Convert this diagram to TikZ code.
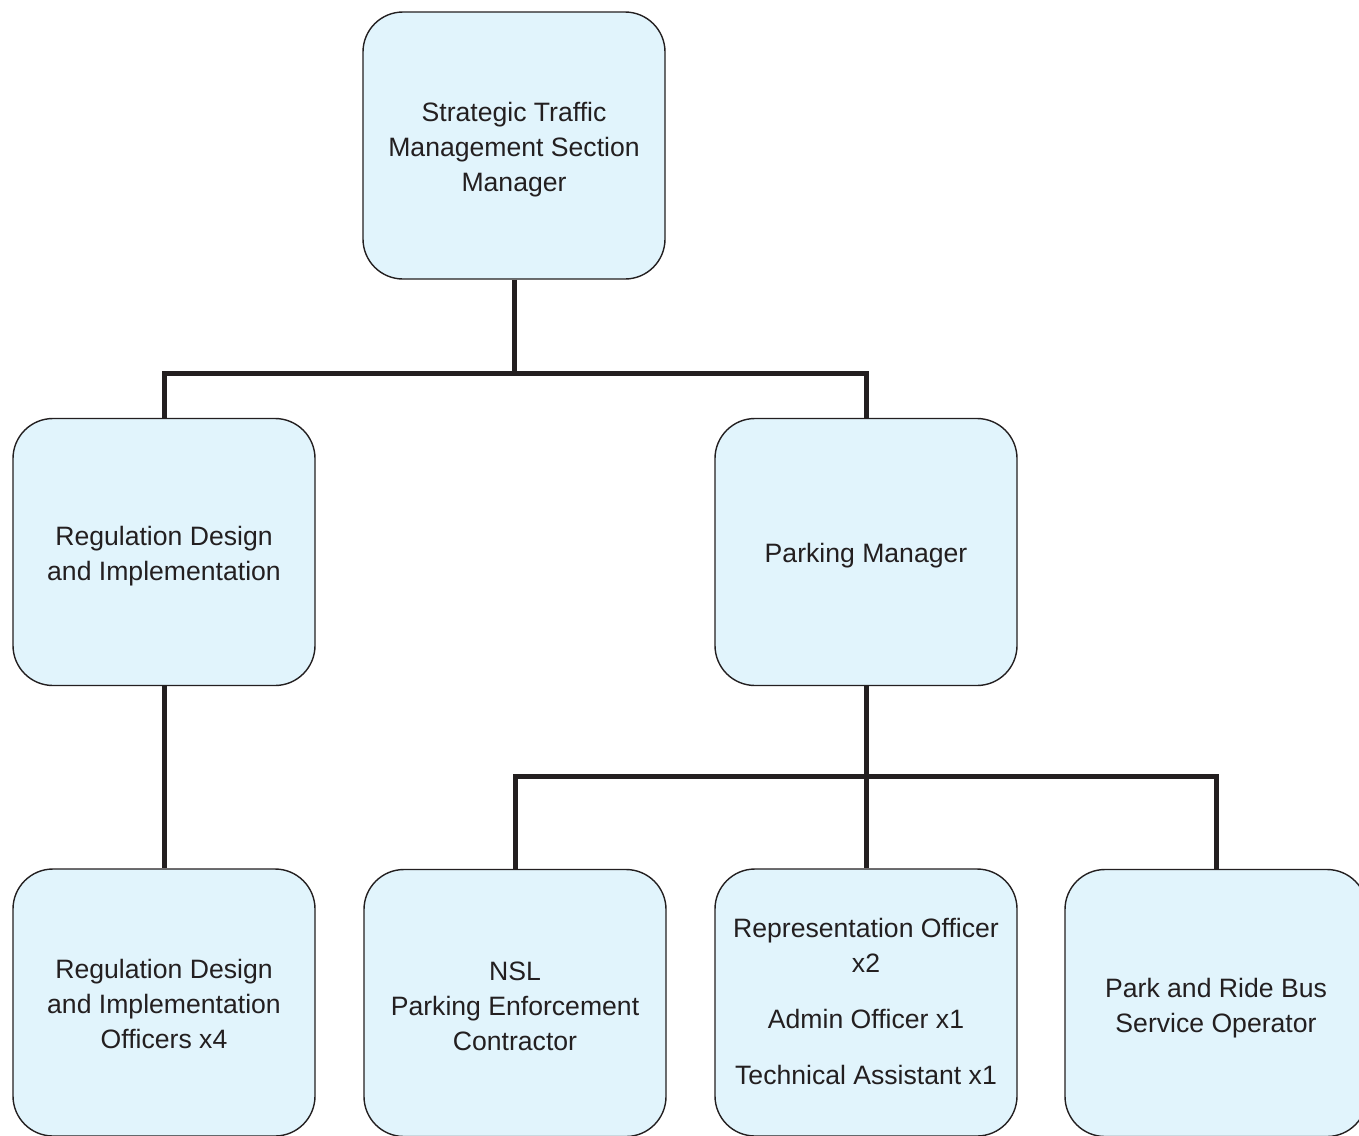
\documentclass[tikz,border=0pt]{standalone}
\usepackage{fontspec}
\setmainfont{Liberation Sans}
\definecolor{boxfill}{HTML}{E1F4FC}
\definecolor{ink}{HTML}{231F20}
\begin{document}
\begin{tikzpicture}[x=.5pt, y=-.5pt, font=\fontsize{13.3}{17.5}\selectfont, line join=miter,
	post/.style={draw=ink, fill=boxfill, rounded corners=20pt, line width=.7pt, minimum width=151pt, minimum height=133.5pt, inner sep=0pt},
	txt/.style={align=center, text=ink, inner sep=0pt},
	link/.style={draw=ink, line width=2.5pt}]
	\useasboundingbox (0,0) rectangle (1359,1135);
	\clip (0,0) rectangle (1359,1135);
	% managers
	\node[post] (top) at (514,145.5) {};
	\node[post] (reg) at (164,552) {};
	\node[post] (park) at (866,552) {};
	\node[txt] (toptext) at ([yshift=-2pt]top) {Strategic Traffic\\Management Section\\Manager};
	\node[txt] (regtext) at ([yshift=-2pt]reg) {Regulation Design\\and Implementation};
	\node[txt] (parktext) at ([yshift=-2pt]park) {Parking Manager};
	% staff
	\node[post] (regoff) at (164,1002.5) {};
	\node[post] (nsl) at (515,1003) {};
	\node[post] (rep) at (866,1002.5) {};
	\node[post] (pr) at (1216,1003) {};
	\node[txt] (regofftext) at ([yshift=-.5pt]regoff) {Regulation Design\\and Implementation\\Officers x4};
	\node[txt] (nsltext) at ([yshift=-1.5pt]nsl) {NSL\\Parking Enforcement\\Contractor};
	\node[txt] (reptext) at ([yshift=.75pt]rep) {Representation Officer\\x2\\[10.5pt]Admin Officer x1\\[10.5pt]Technical Assistant x1};
	\node[txt] (prtext) at ([yshift=-2.75pt]pr) {Park and Ride Bus\\Service Operator};
	% connectors
	\coordinate (j1) at (514,373);
	\coordinate (j2) at (866,776);
	\draw[link] (top.south) -- (j1);
	\draw[link] (reg.north) |- (j1) -| (park.north);
	\draw[link] (reg.south) -- (regoff.north);
	\draw[link] (park.south) -- (rep.north);
	\draw[link] (nsl.north) |- (j2) -| (pr.north);
\end{tikzpicture}
\end{document}
